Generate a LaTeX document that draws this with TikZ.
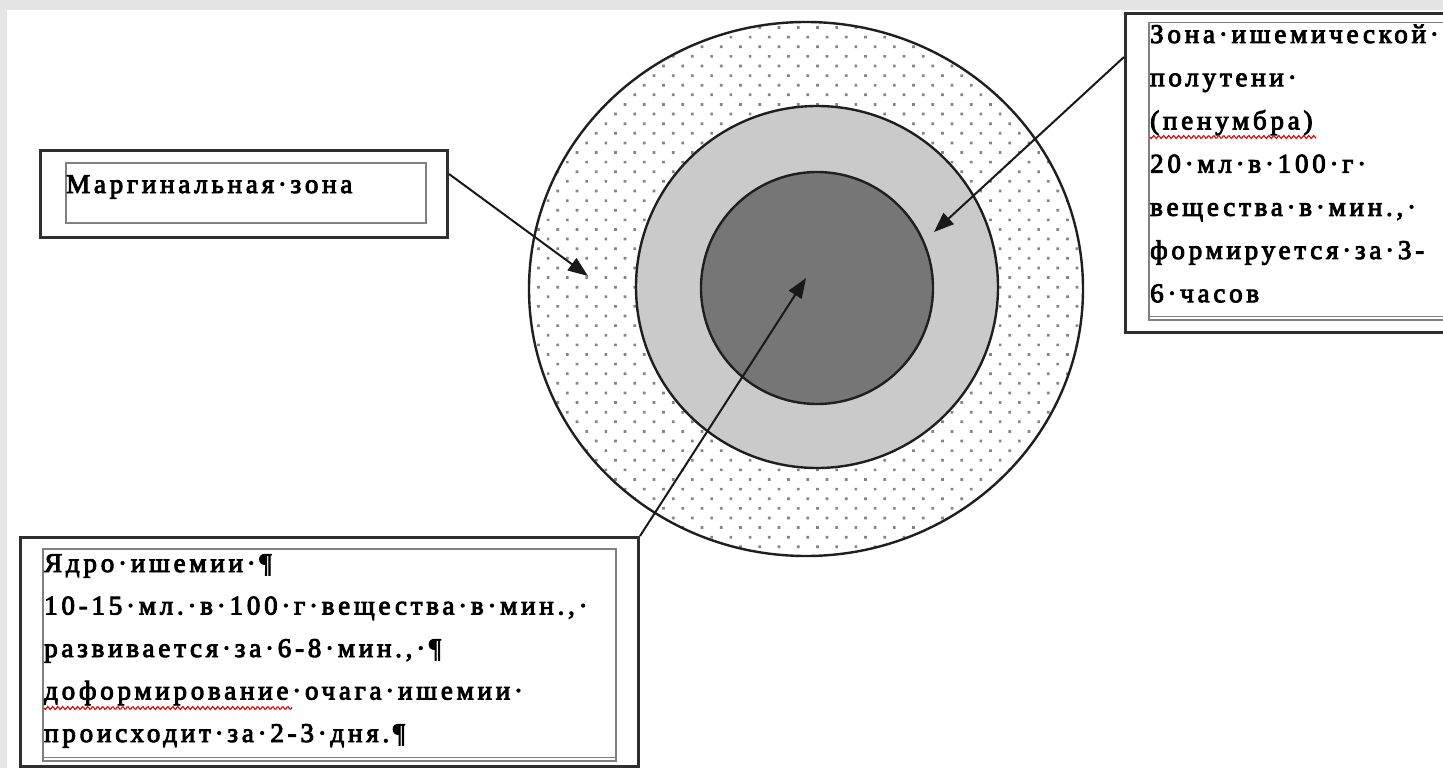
\documentclass[tikz,border=0pt]{standalone}
\usepackage{fontspec}
\setmainfont{Liberation Serif}
\newfontfamily\boxfont[LetterSpace=14,FakeBold=3.5]{Liberation Serif}
\usetikzlibrary{arrows.meta,patterns.meta,calc}
\definecolor{corefill}{RGB}{118,118,118}
\definecolor{penfill}{RGB}{202,202,202}
\begin{document}
\begin{tikzpicture}[x=1pt,y=-1pt,
  obox/.style={draw=black!82, line width=3pt, inner sep=0pt, anchor=north west, fill=white},
  ibox/.style={draw=black!50, line width=1.5pt, inner sep=0pt, anchor=north west},
  txt/.style={anchor=base west, inner sep=0pt, font=\boxfont\fontsize{27}{43.2}\selectfont, text=black},
  txtsm/.style={txt, font=\boxfont\fontsize{27}{42.5}\selectfont},
  ring/.style={draw=black!88, line width=2.4pt},
  arr/.style={draw=black!90, line width=2pt, -{Triangle[length=20pt,width=15pt]}},
  wavy/.style={draw=red!85!black, line width=1.1pt}]
\useasboundingbox (0,0) rectangle (1443,768);
\clip (0,0) rectangle (1443,768);
\fill[black!10] (0,0) rectangle (1443,768);
\fill[white] (7,10) rectangle (1443,768);

% concentric zones
\fill[white] (806,289) ellipse [x radius=277, y radius=267];
\fill[pattern={Dots[radius=1.9pt,distance=13.6pt,angle=45]}, pattern color=black!48] (806,289) ellipse [x radius=277, y radius=267];
\draw[ring] (806,289) ellipse [x radius=277, y radius=267];
\draw[ring, fill=penfill] (817,287) circle [radius=181];
\draw[ring, fill=corefill] (817,288) circle [radius=116];

\coordinate (mtip) at (588,276);
\coordinate (ptip) at (934,232);
\coordinate (ctip) at (806,278);

% marginal zone box
\node[obox, minimum width=407pt, minimum height=87pt] (mbox) at (39,149) {};
\node[ibox, minimum width=360pt, minimum height=60pt] (min) at (65,162) {};
\node[txt] (mtext) at (66,193) {Маргинальная·зона};

% penumbra box
\node[obox, minimum width=340pt, minimum height=319pt] (pbox) at (1124,12) {};
\node[ibox, minimum width=300pt, minimum height=297pt] (pin) at (1148,22) {};
\draw[black!50, line width=1.5pt] ($(pin.south west)+(0,-4)$) -- ($(pin.south east)+(0,-4)$);
\node[txt] (ptext) at (1150,43) {\parbox[t]{400pt}{\raggedright Зона·ишемической·\\полутени·\\(пенумбра)\\20·мл·в·100·г·\\вещества·в·мин.,·\\формируется·за·3-\\6·часов}};

% core box
\node[obox, minimum width=618pt, minimum height=229pt] (cbox) at (19,536) {};
\node[ibox, minimum width=573pt, minimum height=212pt] (cin) at (42,548) {};
\draw[black!50, line width=1.5pt] ($(cin.south west)+(0,-4)$) -- ($(cin.south east)+(0,-4)$);
\node[txtsm] (ctext) at (44,572) {\parbox[t]{600pt}{\raggedright Ядро·ишемии·¶\\10-15·мл.·в·100·г·вещества·в·мин.,·\\развивается·за·6-8·мин.,·¶\\доформирование·очага·ишемии·\\происходит·за·2-3·дня.¶}};

% spell-check marks
\draw[wavy] plot[domain=0:248, samples=201] ({44+\x},{708+1.5*sin(mod(\x,5)*72)});
\draw[wavy] plot[domain=0:166, samples=135] ({1150+\x},{137+1.5*sin(mod(\x,5)*72)});

% connectors
\draw[arr] ($(mbox.north east)+(0,25)$) -- (mtip);
\draw[arr] ($(pbox.north west)+(0,45)$) -- (ptip);
\draw[arr] (cbox.north east) -- (ctip);
\end{tikzpicture}
\end{document}
